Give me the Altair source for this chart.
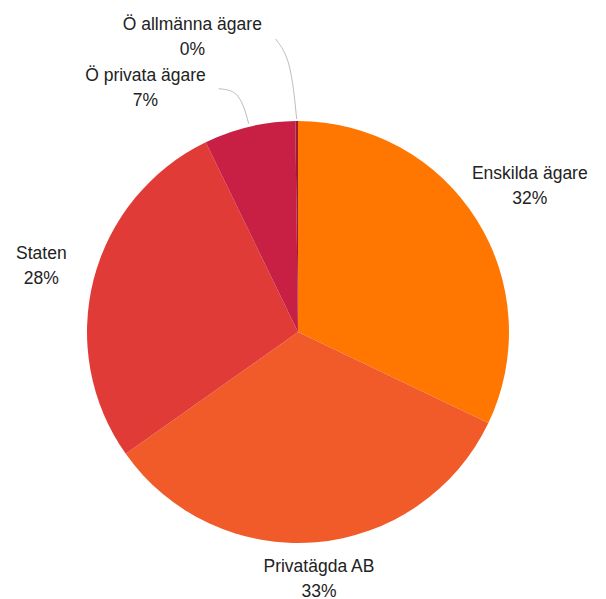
import math
import altair as alt
import pandas as pd

# ---- data ----
categories = ["Enskilda ägare", "Privatägda AB", "Staten", "Ö privata ägare", "Ö allmänna ägare"]
shares = [32.1, 33.1, 27.6, 7.0, 0.2]
colors = ["#FF7700", "#F15A29", "#E03B37", "#C81F45", "#9E1B32"]

# ---- layout / style ----
W, H = 590, 591
CX, CY = 290, 324   # pie centre (view coords)
R = 211
FONT = "Liberation Sans"
FS = 17.5

label_style = {
    "Enskilda ägare": dict(radius=274, dx=0, dy=-12),
    "Privatägda AB": dict(radius=247, dx=0, dy=-11),
    "Staten": dict(radius=265, dx=0, dy=-12),
    "Ö privata ägare": dict(radius=267, dx=-91, dy=4),
    "Ö allmänna ägare": dict(radius=267, dx=-104, dy=-40),
}
leader_style = {
    "Ö privata ägare": dict(r0=214, ctrl=(-9, -33), end=(-30, -35)),
    "Ö allmänna ägare": dict(r0=213, ctrl=(-6, -60), end=(-21, -80)),
}

df = pd.DataFrame({"cat": categories, "share": shares, "idx": list(range(len(categories)))})
df["label"] = [f"{c}\n{round(s)}%" for c, s in zip(categories, shares)]

# mid angles of slices (for leader lines)
total = sum(shares)
mids = {}
cum = 0.0
for c, s in zip(categories, shares):
    mids[c] = (cum + s / 2) / total * 2 * math.pi
    cum += s

rows = []
for c, st in leader_style.items():
    a = mids[c]
    sx = CX + st["r0"] * math.sin(a)
    sy = CY - st["r0"] * math.cos(a)
    pts = [(sx, sy), (sx + st["ctrl"][0], sy + st["ctrl"][1]), (sx + st["end"][0], sy + st["end"][1])]
    for k, (x, y) in enumerate(pts):
        rows.append({"grp": c, "k": k, "x": x, "y": y})
leader_df = pd.DataFrame(rows)

base = alt.Chart(df).encode(
    theta=alt.Theta("share:Q", stack=True),
    order=alt.Order("idx:Q", sort="ascending"),
)

arcs = base.mark_arc(radius=R, strokeWidth=0).encode(
    color=alt.Color("cat:N", scale=alt.Scale(domain=categories, range=colors), legend=None),
    x=alt.value(CX),
    y=alt.value(CY),
)

texts = []
for c in categories:
    st = label_style[c]
    t = base.transform_calculate(
        txt=f"datum.cat === '{c}' ? datum.label : ''"
    ).mark_text(
        radius=st["radius"], dx=st["dx"], dy=st["dy"],
        font=FONT, fontSize=FS, lineBreak="\n", lineHeight=25,
        baseline="middle", align="center", color="#222222",
    ).encode(
        text="txt:N",
        x=alt.value(CX),
        y=alt.value(CY),
    )
    texts.append(t)

leaders = alt.Chart(leader_df).mark_line(
    interpolate="basis", stroke="#BDBDBD", strokeWidth=1
).encode(
    x=alt.X("x:Q", scale=None, axis=None),
    y=alt.Y("y:Q", scale=None, axis=None),
    detail="grp:N",
    order="k:Q",
)

chart = alt.layer(arcs, *texts, leaders).properties(
    width=W, height=H,
    autosize=alt.AutoSizeParams(type="none"),
    padding=0,
).configure_view(stroke=None)

chart.save("out.html", embed_options={"renderer": "svg", "actions": False})
